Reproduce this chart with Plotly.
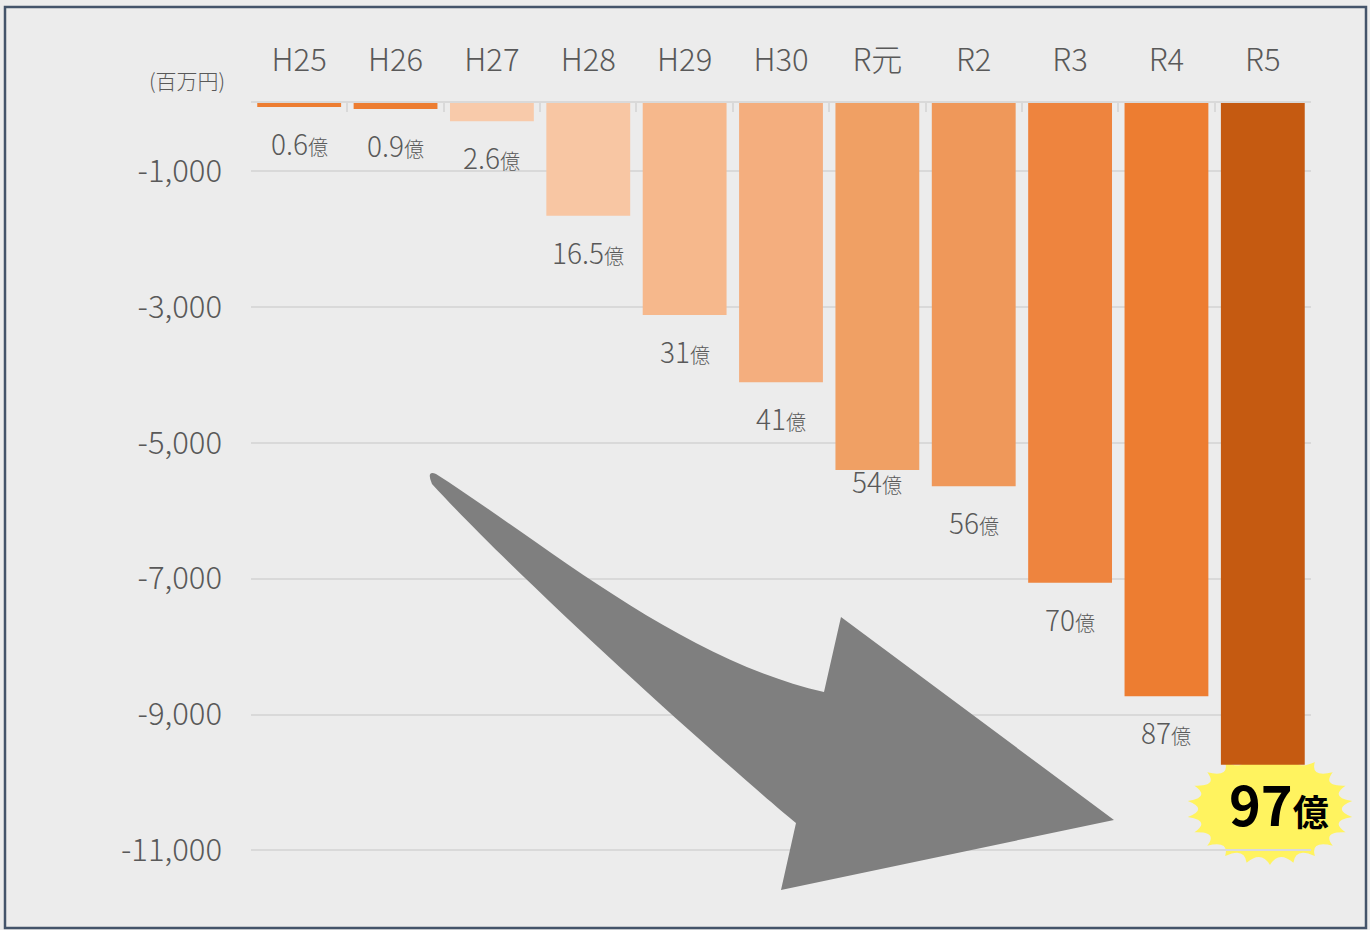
import math
import plotly.graph_objects as go

# ---- data (百万円) ----
years = ["H25", "H26", "H27", "H28", "H29", "H30", "R元", "R2", "R3", "R4", "R5"]
values = [-60, -90, -270, -1660, -3120, -4110, -5400, -5640, -7060, -8730, -9740]
label_nums = ["0.6", "0.9", "2.6", "16.5", "31", "41", "54", "56", "70", "87", "97"]
bar_colors = ["#ED7D31", "#ED7D31", "#F8CAAA", "#F8C6A3", "#F6B88C", "#F4AE7E",
              "#F0A064", "#EF985A", "#EE843E", "#ED7D31", "#C55A11"]
y_ticks = [-1000, -3000, -5000, -7000, -9000, -11000]
y_ticktext = ["-1,000", "-3,000", "-5,000", "-7,000", "-9,000", "-11,000"]

FONT = "Noto Sans CJK JP"
GRAY = "#595959"
W, H = 1370, 930
ML, MR, MT, MB = 251, 59, 103, 32
PW, PH = W - ML - MR, H - MT - MB


def px(x):
    return (x - ML) / PW


def py(y):
    return (H - MB - y) / PH


fig = go.Figure()
fig.add_trace(go.Bar(
    x=years, y=values, marker=dict(color=bar_colors, line=dict(width=0)),
    hoverinfo="x+y", showlegend=False,
))

# data labels
label_shift = {"R元": -11}
for cat, v, n in zip(years[:-1], values[:-1], label_nums[:-1]):
    fig.add_annotation(
        x=cat, y=v, xref="x", yref="y", yanchor="middle", xanchor="center",
        yshift=label_shift.get(cat, -36), showarrow=False,
        text=f"{n}<span style='font-size:20px'>億</span>",
        font=dict(family=FONT, size=28, color=GRAY, weight=300),
    )

# starburst behind the last label (decoration)
cx, cy, rx, ry = 1270, 809, 83, 56
n_sp = 22
path = ""
for i in range(n_sp + 1):
    a = 2 * math.pi * i / n_sp - math.pi / 2
    tx, ty = cx + rx * math.cos(a), cy + ry * math.sin(a)
    if i == 0:
        path += f"M {px(tx):.5f},{py(ty):.5f} "
    else:
        am = a - math.pi / n_sp
        qx, qy = cx + 0.74 * rx * math.cos(am), cy + 0.74 * ry * math.sin(am)
        path += f"Q {px(qx):.5f},{py(qy):.5f} {px(tx):.5f},{py(ty):.5f} "
path += "Z"
fig.add_shape(type="path", path=path, xref="paper", yref="paper",
              fillcolor="#FFF35F", line=dict(width=0), layer="below")

fig.add_annotation(
    x=years[-1], y=values[-1], xref="x", yref="y", yanchor="middle", xanchor="center",
    xshift=16, yshift=-38, showarrow=False,
    text=f"<b>{label_nums[-1]}<span style='font-size:36px'>億</span></b>",
    font=dict(family=FONT, size=54, color="#000000"),
)

# big gray curved arrow (decoration)
pts = [
    ("M", [(436, 474)]),
    ("C", [(540, 540), (680, 660), (824, 692)]),
    ("L", [(841, 617)]),
    ("L", [(1114, 820)]),
    ("L", [(781, 890)]),
    ("L", [(796, 823)]),
    ("C", [(720, 760), (520, 580), (432, 484)]),
    ("Q", [(426, 470), (436, 474)]),
]
apath = ""
for cmd, cps in pts:
    apath += cmd + " " + " ".join(f"{px(a):.5f},{py(b):.5f}" for a, b in cps) + " "
apath += "Z"
fig.add_shape(type="path", path=apath, xref="paper", yref="paper",
              fillcolor="#7F7F7F", line=dict(width=0), layer="above")

# unit label
fig.add_annotation(
    x=px(227), y=py(80), xref="paper", yref="paper", xanchor="right", yanchor="middle",
    showarrow=False, text="(百万円)", font=dict(family=FONT, size=21, color=GRAY, weight=300),
)

# outer frame
fig.add_shape(type="rect", xref="paper", yref="paper",
              x0=px(5), x1=px(1366), y0=py(928), y1=py(7),
              line=dict(color="#44546A", width=2.5), fillcolor="rgba(0,0,0,0)", layer="above")

fig.update_layout(
    width=W, height=H,
    margin=dict(l=ML, r=MR, t=MT, b=MB),
    paper_bgcolor="#ECECEC", plot_bgcolor="rgba(0,0,0,0)",
    bargap=0.13,
    font=dict(family=FONT, color=GRAY),
    xaxis=dict(
        side="top", type="category", range=[-0.5, len(years) - 0.5],
        showgrid=False, showline=True,
        linecolor="#D9D9D9", linewidth=2, ticks="inside", tickson="boundaries",
        ticklen=9, tickcolor="#D9D9D9", tickwidth=1.5,
        tickfont=dict(family=FONT, size=31, color=GRAY, weight=300), ticklabelstandoff=18,
        fixedrange=True,
    ),
    yaxis=dict(
        range=[-11700, 0], tickvals=y_ticks, ticktext=y_ticktext,
        showgrid=True, gridcolor="#D9D9D9", gridwidth=1.5, zeroline=False,
        showline=False, ticks="", ticklabelstandoff=28,
        tickfont=dict(family=FONT, size=31, color=GRAY, weight=300), fixedrange=True,
    ),
)

fig.write_html("out.html", config={"displayModeBar": False},
               post_script="document.body.style.margin='0';document.body.style.background='#ECECEC';")
